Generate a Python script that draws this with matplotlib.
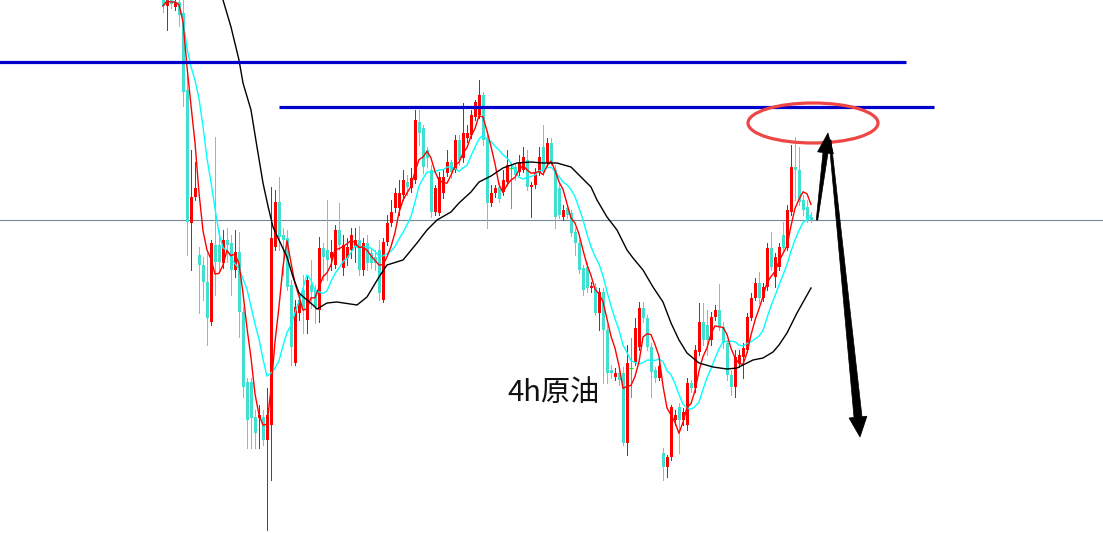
import numpy as np
import pandas as pd
import matplotlib
matplotlib.use("Agg")
import matplotlib.pyplot as plt
from matplotlib.patches import Ellipse, Polygon
from matplotlib.transforms import IdentityTransform

plt.rcParams['font.family'] = ['Noto Sans CJK SC', 'DejaVu Sans']

# 4h crude oil candles (oldest first)
opens = [
    100.2, 99.4, 100.0, 99.3, 99.8, 98.7, 91.0, 77.7, 80.3, 74.5,
    73.5, 71.8, 67.8, 75.5, 75.5, 73.7, 76.0, 75.7, 73.0, 74.8,
    68.8, 61.8, 61.8, 58.3, 58.2, 58.3, 56.0, 57.5, 75.3, 79.8,
    76.5, 76.2, 71.5, 63.7, 68.7, 71.0, 68.0, 71.5, 71.0, 69.0,
    75.2, 75.0, 74.2, 73.5, 77.0, 73.2, 74.2, 75.0, 75.3, 76.0,
    73.0, 75.7, 74.7, 74.3, 75.0, 70.0, 75.8, 77.7, 79.2, 79.2,
    80.5, 81.8, 81.2, 82.0, 87.8, 87.2, 85.0, 83.0, 78.8, 78.7,
    80.7, 82.7, 83.8, 83.0, 86.0, 84.2, 86.2, 86.5, 88.3, 88.5,
    90.5, 86.0, 79.7, 80.7, 81.3, 80.8, 81.8, 83.2, 83.3, 82.8,
    83.0, 84.0, 81.3, 81.5, 82.8, 85.3, 83.7, 85.7, 83.0, 81.2,
    78.3, 79.2, 78.7, 76.8, 75.7, 73.2, 73.3, 71.2, 71.3, 68.7,
    70.8, 67.0, 63.0, 62.3, 62.7, 62.7, 55.7, 63.2, 63.8, 65.3,
    69.2, 68.2, 65.3, 63.0, 62.2, 54.7, 53.3, 54.3, 58.0, 59.3,
    58.0, 57.5, 61.7, 61.2, 64.8, 67.8, 67.5, 66.0, 68.3, 69.0,
    67.3, 65.7, 62.5, 61.3, 63.7, 64.3, 65.0, 68.2, 70.2, 71.7,
    70.2, 71.3, 75.2, 72.3, 73.3, 76.5, 75.2, 78.8, 83.3, 83.0,
    80.0, 79.3, 78.3,
]
highs = [
    101.2, 101.2, 100.6, 100.4, 100.3, 100.0, 92.5, 85.0, 83.8, 75.3,
    74.3, 74.7, 76.0, 86.3, 77.0, 77.0, 77.2, 76.5, 77.0, 76.8,
    69.3, 62.2, 62.2, 59.0, 59.5, 59.0, 61.2, 81.3, 81.0, 82.3,
    77.2, 77.0, 72.0, 70.0, 70.5, 72.5, 72.5, 74.0, 71.5, 76.3,
    75.7, 80.0, 76.0, 77.5, 79.7, 76.5, 76.2, 77.2, 77.2, 77.4,
    76.2, 76.5, 75.2, 75.0, 76.0, 76.2, 78.5, 80.0, 81.2, 82.0,
    83.0, 82.5, 83.2, 89.0, 89.0, 87.5, 85.3, 83.5, 81.5, 82.8,
    83.0, 85.0, 84.0, 86.5, 86.5, 89.7, 87.5, 89.0, 90.0, 92.0,
    90.8, 86.5, 81.5, 81.5, 81.7, 83.0, 85.0, 83.5, 83.7, 84.5,
    85.3, 85.0, 81.8, 83.2, 85.3, 87.5, 86.2, 86.2, 83.5, 81.7,
    79.5, 79.5, 79.0, 77.2, 76.0, 73.5, 73.8, 71.8, 71.7, 71.2,
    71.2, 67.5, 63.5, 63.2, 63.0, 63.3, 65.5, 66.2, 68.2, 69.8,
    69.8, 68.5, 65.7, 63.3, 64.0, 55.2, 54.5, 59.5, 59.0, 59.7,
    59.2, 62.2, 62.0, 65.5, 69.7, 69.7, 69.0, 68.8, 69.5, 71.6,
    67.8, 66.0, 63.0, 65.0, 65.0, 65.7, 68.7, 70.7, 72.2, 72.8,
    71.7, 75.7, 76.8, 74.7, 75.7, 77.8, 79.5, 85.5, 86.3, 85.3,
    80.5, 80.0, 78.8,
]
lows = [
    98.8, 97.0, 99.2, 99.0, 97.4, 89.4, 74.5, 73.0, 80.0, 68.7,
    70.0, 65.5, 67.5, 70.5, 73.0, 73.2, 73.8, 70.5, 72.3, 66.3,
    60.3, 55.2, 55.2, 55.2, 55.2, 55.5, 47.0, 52.0, 75.0, 75.0,
    72.5, 71.0, 63.5, 63.5, 68.0, 66.7, 66.7, 69.2, 67.7, 67.8,
    72.0, 72.0, 73.0, 73.2, 75.0, 72.5, 73.5, 74.2, 73.8, 72.5,
    72.5, 73.0, 73.2, 73.0, 70.0, 69.8, 75.5, 77.4, 78.8, 78.5,
    80.0, 80.5, 80.8, 81.7, 85.5, 82.7, 83.3, 78.3, 78.5, 78.5,
    80.2, 82.4, 82.2, 82.8, 83.5, 83.8, 85.8, 86.2, 88.0, 88.2,
    85.5, 77.2, 79.4, 80.3, 79.8, 80.5, 81.5, 79.2, 82.0, 82.5,
    82.8, 81.0, 78.3, 81.2, 82.5, 82.5, 83.4, 83.5, 77.2, 78.2,
    78.0, 78.2, 76.4, 74.5, 72.7, 70.5, 70.8, 70.8, 68.5, 67.0,
    61.7, 61.7, 62.2, 62.0, 61.5, 55.5, 54.5, 60.3, 63.5, 65.0,
    67.8, 65.0, 60.3, 61.8, 62.0, 52.0, 52.3, 54.0, 57.5, 54.7,
    57.5, 57.0, 60.8, 60.8, 64.5, 65.5, 64.5, 65.5, 68.0, 67.0,
    65.2, 62.0, 60.5, 60.3, 63.3, 62.2, 64.8, 68.0, 70.0, 69.7,
    69.9, 71.0, 73.0, 71.3, 73.0, 74.9, 75.0, 78.5, 80.0, 79.5,
    78.5, 77.8, 77.8,
]
closes = [
    99.4, 100.4, 99.6, 99.8, 98.5, 90.8, 77.8, 80.3, 81.2, 73.5,
    71.8, 68.2, 75.7, 73.8, 73.8, 76.0, 75.5, 73.0, 74.8, 68.8,
    61.3, 58.0, 58.2, 56.7, 58.5, 56.0, 58.5, 76.2, 79.8, 76.3,
    76.0, 71.3, 65.3, 69.3, 70.0, 69.0, 72.0, 70.8, 69.3, 75.2,
    74.3, 74.0, 74.8, 77.0, 75.5, 75.5, 75.3, 76.5, 76.0, 73.0,
    75.7, 73.7, 73.7, 73.7, 70.7, 75.8, 77.7, 78.8, 80.7, 80.7,
    82.0, 81.3, 82.2, 88.0, 86.7, 83.3, 84.2, 78.8, 81.2, 82.3,
    82.3, 83.8, 82.8, 86.0, 84.0, 86.7, 86.7, 88.5, 89.8, 90.5,
    86.0, 79.7, 80.7, 81.2, 80.1, 82.0, 83.5, 83.2, 82.5, 83.8,
    84.3, 81.3, 81.5, 82.8, 84.3, 82.8, 85.7, 83.8, 78.3, 78.5,
    79.0, 78.5, 76.7, 75.7, 73.0, 71.0, 71.2, 71.4, 68.7, 70.8,
    67.0, 62.7, 62.7, 62.7, 62.0, 55.7, 63.7, 63.2, 67.2, 69.2,
    68.2, 65.3, 62.8, 62.2, 63.4, 53.3, 54.3, 59.3, 58.5, 58.0,
    58.8, 61.7, 61.2, 65.0, 67.8, 66.0, 66.0, 68.3, 69.0, 67.3,
    65.7, 62.5, 61.3, 64.3, 64.5, 65.2, 68.3, 70.2, 71.7, 70.2,
    71.3, 75.2, 73.3, 74.3, 75.3, 75.2, 79.0, 83.3, 83.0, 79.8,
    79.0, 78.0, 78.0,
]

# slow moving average (black), sampled along the bar index
slow_idx = [14, 15, 17, 19, 20, 22, 23.5, 25, 26.3, 27.5,
            29, 31, 32.5, 34, 36, 37.5, 38.5, 41, 43.5, 48.5,
            51, 54, 56, 60, 63.5, 66, 68.5, 72, 74, 77,
            79, 82, 85, 88.5, 92, 95, 98.5, 102, 104, 107,
            108.5, 111, 113.5, 116, 117.5, 120, 122.5, 125, 127, 129,
            131, 134, 137.5, 141, 143.5, 145, 147.5, 150, 152.5, 154,
            156, 158.5, 162]
slow_ma = [101.5, 100.0, 97.3, 94.0, 91.7, 89.0, 85.3, 81.7, 79.3, 77.3,
           76.0, 74.3, 72.3, 70.7, 70.0, 69.5, 69.1, 69.7, 69.8, 69.5,
           70.3, 72.3, 73.5, 74.0, 75.7, 77.0, 78.0, 78.8, 79.7, 80.8,
           81.8, 82.4, 83.2, 83.7, 83.8, 83.7, 83.7, 83.3, 82.5, 81.3,
           80.0, 78.3, 77.0, 75.0, 74.2, 73.0, 71.3, 69.8, 67.7, 66.0,
           64.7, 63.7, 63.3, 63.1, 63.2, 63.5, 64.0, 64.2, 64.8, 65.5,
           66.7, 68.7, 71.2]

# resistance levels and their bar spans
upper_level, upper_span = 93.8, (-41, 185.75)
lower_level, lower_span = 89.3, (29, 192.75)

title = "4h原油"

UP, DOWN, DOJI = "#FF0000", "#40E0D0", "#00EE00"

o = np.array(opens); h = np.array(highs); l = np.array(lows); c = np.array(closes)
x = np.arange(len(c))
colors = np.where(c > o, UP, np.where(c < o, DOWN, DOJI))

fig = plt.figure(figsize=(11.03, 5.33), dpi=100)
ax = fig.add_axes([0, 0, 1, 1])
ax.set_xlim(-40.75, 235)
ax.set_ylim(46.7, 100)
ax.axis("off")

# wicks and bodies
ax.vlines(x, l, h, colors=colors, linewidth=0.72, zorder=2, antialiased=False)
body_lo = np.minimum(o, c)
body_h = np.abs(c - o)
solid = body_h > 0
ax.bar(x[solid], body_h[solid], bottom=body_lo[solid], width=0.75,
       color=colors[solid], linewidth=0, zorder=3, antialiased=False)
doji = ~solid
ax.hlines(o[doji], x[doji] - 0.4, x[doji] + 0.4, colors=DOJI, linewidth=0.72, zorder=3)

# moving averages
s = pd.Series(c)
ma_fast = s.rolling(5, min_periods=1).mean()
ma_mid = s.rolling(10, min_periods=1).mean()
ax.plot(x, ma_mid, color="#00FFFF", linewidth=1.0, zorder=4)
ax.plot(x, ma_fast, color="#FF0000", linewidth=1.0, zorder=5)
ax.plot(slow_idx, slow_ma, color="#000000", linewidth=1.0, zorder=5)

# current price line
ax.axhline(c[-1], color="#778899", linewidth=0.8, zorder=1)

# resistance lines
ax.hlines(upper_level, *upper_span, color="#0000CD", linewidth=2.3, zorder=6)
ax.hlines(lower_level, *lower_span, color="#0000CD", linewidth=2.3, zorder=6)

# target zone
ax.add_patch(Ellipse((162.5, 87.7), 32.5, 4.0, fill=False, edgecolor="#EE4545",
                     linewidth=2.3, zorder=7))


def tapered_arrow(start, end, w0, w1, head_len, head_w):
    p0 = ax.transData.transform(start)
    p1 = ax.transData.transform(end)
    d = p1 - p0
    u = d / np.hypot(*d)
    n = np.array([-u[1], u[0]])
    base = p1 - u * head_len
    pts = [p0 + n * w0 / 2, base + n * w1 / 2, base + n * head_w / 2, p1,
           base - n * head_w / 2, base - n * w1 / 2, p0 - n * w0 / 2]
    ax.add_patch(Polygon(pts, closed=True, facecolor="black", edgecolor="black",
                         linewidth=0.5, transform=IdentityTransform(), zorder=8))


tapered_arrow((163.5, c[-1]), (166.25, 86.7), 1.5, 5, 20, 16)
tapered_arrow((166.75, 86.0), (174.25, 56.3), 2, 8, 20, 18)

ax.text(86, 60.7, title, fontsize=21, ha="left", va="center", color="#111111", zorder=9)

fig.savefig("out.png", dpi=100)
